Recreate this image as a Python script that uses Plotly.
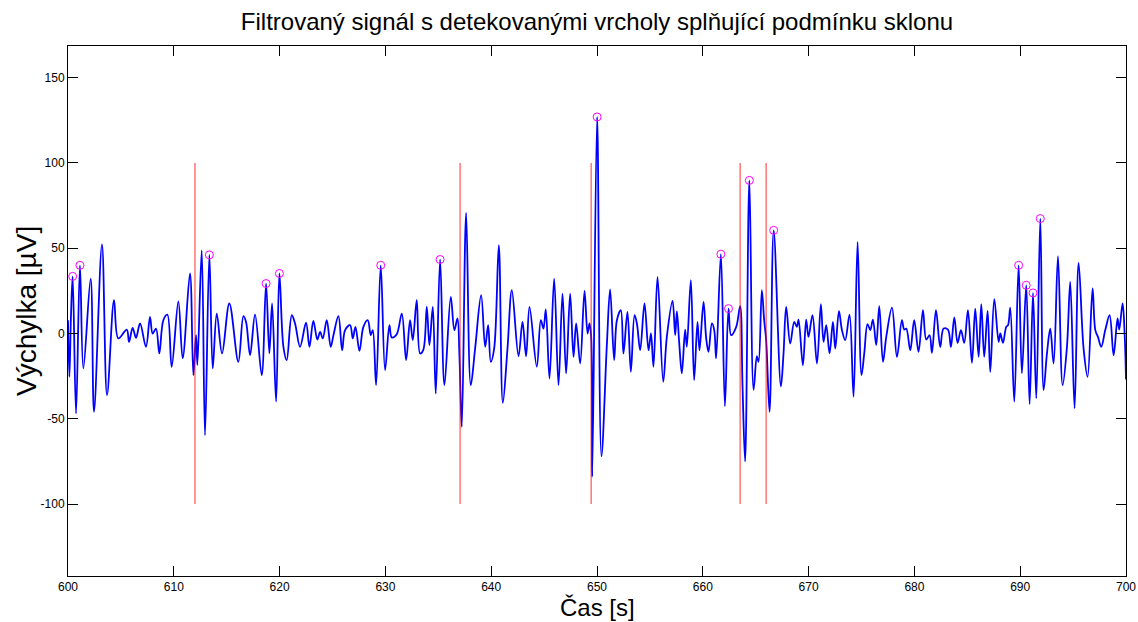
import plotly.graph_objects as go

# --- signal (time in s, deflection in uV) ---
t = [600.00, 600.13, 600.28, 600.44, 600.76, 601.13, 601.45, 602.14, 602.46, 603.21,
     603.69, 604.35, 604.76, 605.55, 605.77, 606.11, 606.43, 606.81, 607.37, 607.75,
     608.00, 608.32, 608.63, 609.01, 609.39, 609.80, 610.43, 610.84,
     611.53, 611.85, 612.10, 612.23, 612.64, 612.95, 613.36, 613.68, 614.06, 614.56,
     615.25, 616.10, 616.58, 616.83, 617.21, 617.68, 618.31, 618.72, 619.03, 619.29,
     619.67, 619.98, 620.36, 620.67, 621.15, 621.46, 621.93,
     622.50, 622.82, 623.19, 623.57, 623.83, 624.08, 624.46, 624.83, 625.09, 625.56,
     625.91, 626.19, 626.66, 626.92, 627.17, 627.55, 627.92, 628.33, 628.62, 628.81,
     629.12, 629.56, 629.97, 630.38, 630.60, 631.07, 631.55, 631.96, 632.33, 632.59,
     632.96, 633.28,
     633.59, 633.91, 634.16, 634.48, 634.76, 635.17, 635.58, 636.18, 636.52, 636.81,
     637.00, 637.22, 637.63, 638.07, 638.48, 639.05, 639.43, 639.71, 639.96, 640.28,
     640.72, 641.10, 641.54, 641.95, 642.58, 642.96, 643.30, 643.62, 644.31, 644.69,
     644.94, 645.16, 645.51, 645.95, 646.36, 646.74, 647.08, 647.46, 647.78, 648.03,
     648.41, 648.82, 649.11, 649.29, 649.45, 649.55, 650.01, 650.42, 650.93, 651.24,
     651.62, 651.88, 652.25, 652.50, 652.88, 653.20, 653.55, 653.77, 654.08, 654.49,
     654.87, 655.10, 655.34, 655.72, 656.26,
     656.60, 657.14, 657.39, 657.55, 657.77, 658.02, 658.33, 658.49, 658.87, 659.18,
     659.50, 659.69, 660.07, 660.32, 660.54, 660.86, 661.08, 661.26, 661.71, 662.09,
     662.43, 662.68, 663.16, 663.53, 663.75, 664.00, 664.40, 664.80, 665.11, 665.27,
     665.58, 665.80, 665.99, 666.31, 666.70, 667.38,
     667.63, 667.88, 668.26, 668.64, 668.89, 669.05, 669.46, 669.77, 669.99, 670.37,
     670.79, 671.16, 671.41, 671.67, 671.98, 672.30, 672.52, 672.87, 673.15, 673.46,
     673.87, 674.25, 674.63, 675.00, 675.26, 675.57, 675.83, 676.08, 676.39, 676.68,
     677.03, 677.34, 677.88, 678.35, 678.82,
     679.04, 679.23, 679.61, 679.98, 680.39, 680.81, 681.12, 681.43, 681.66, 682.04,
     682.44, 682.76, 683.17, 683.45, 683.77, 684.08, 684.40, 684.71, 685.06, 685.44,
     685.75, 686.07, 686.32, 686.60, 686.92, 687.17, 687.55, 687.96, 688.12, 688.37,
     688.68, 688.85, 689.06, 689.44, 689.85, 690.16, 690.57, 690.89, 691.21, 691.52,
     691.90, 692.21, 692.53, 692.84, 693.16, 693.57, 694.01, 694.42, 694.73, 695.14,
     695.52, 695.99, 696.37, 696.84, 697.10, 697.35, 697.66, 698.04, 698.45, 698.83,
     699.20, 699.36, 699.68, 699.87, 700.00]
v = [7.8, -25.4, 9.8, 33.5, -46.9, 40.0, -20.5, 32.2, -45.9, 52.3,
     -36.1, 19.5, -2.9, 2.3, -4.9, 3.3, -2.5, 5.9, -7.8, 9.8,
     0.0, 2.9, -11.7, 7.8, 11.1, -19.5, 18.9, -14.6,
     35.2, -24.4, -1.0, -18.5, 48.8, -59.6, 46.1, -20.5, 11.7, -11.7,
     17.6, -16.6, 10.2, 6.8, -12.7, 11.1, -24.4, 29.3, -11.7, 17.6,
     -40.0, 35.2, -7.8, -15.6, 10.7, 5.9, -7.8,
     6.3, -7.8, 7.4, -3.5, 1.0, -2.9, 7.8, -7.8, -1.0, 10.2,
     -9.8, 2.0, 4.9, -2.9, 3.9, -10.2, 3.9, 7.8, -1.0, 2.0,
     -30.3, 40.0, -21.5, 4.9, -2.3, -0.4, 11.7, -15.6, 7.8, -3.9,
     19.5, -11.7,
     -9.4, 15.6, -6.8, 15.6, -35.2, 43.4, -30.3, 21.5, 2.0, 8.8,
     -13.7, -54.7, 70.7, -30.3, -8.8, 22.5, -7.8, 4.9, -16.6, -8.8,
     51.8, -40.6, -8.8, 25.4, -13.3, 6.8, -13.3, 15.6, -19.5, 7.8,
     2.9, 14.1, -26.4, 32.2, -30.3, 23.4, -23.4, 23.4, -13.7, 5.9,
     -17.6, 25.0, 0.0, 5.9, -2.0, -84.0, 127.0, -72.0, -6.8, 25.8,
     -15.6, 7.8, 13.7, -11.7, 12.7, -22.5, 10.7, 5.9, -9.8, 17.6,
     -9.8, 0.0, -19.5, 33.2, -28.3,
     -2.0, 19.1, -1.0, 13.0, -5.5, -23.4, 2.3, -7.8, 31.3, -27.3,
     6.8, -9.8, 18.6, -2.9, -10.7, 5.9, 2.0, -14.6, 46.5, -42.6,
     14.6, -1.0, 3.9, 16.0, -30.0, -75.0, 89.8, -33.0, -13.3, -16.6,
     25.4, 7.8, -3.9, -45.9, 60.5, -31.0,
     -11.7, 15.6, -5.9, 6.8, 3.9, 8.2, -18.6, 8.2, -2.0, 10.7,
     -17.6, 17.2, -4.9, 4.9, -11.7, 6.8, -8.8, 13.1, 2.0, -3.9,
     11.1, -37.1, 53.7, -24.4, -11.7, 5.5, 2.0, 8.2, -6.8, 16.0,
     -16.6, -2.0, 15.2, -13.7, 7.8,
     2.3, 2.9, -9.8, 7.8, -10.7, 13.7, -3.5, -1.0, -11.3, 13.7,
     -7.8, 2.9, 2.3, -7.8, 9.4, -5.5, 2.0, -5.5, 13.7, -17.2,
     14.6, -13.7, 17.2, -13.7, 13.3, -22.5, 20.1, -4.9, 0.0, -5.5,
     3.9, 4.9, 15.2, -40.0, 40.0, -23.4, 28.3, -41.4, 23.8, -38.0,
     67.4, -33.2, -11.7, 2.9, -17.6, 45.3, -30.3, -7.8, 30.3, -43.9,
     41.4, -8.8, -25.4, 26.4, 2.0, -2.0, -7.8, 2.0, 10.7, -12.7,
     8.8, 2.3, 17.6, 0.0, -27.0]

# --- detected peaks meeting the slope condition ---
peak_t = [600.44, 601.13, 613.36, 618.72, 619.98, 629.56, 635.17, 650.01,
          661.71, 662.43, 664.40, 666.70, 689.85, 690.57, 691.21, 691.90]
peak_v = [33.5, 40.0, 46.1, 29.3, 35.2, 40.0, 43.4, 127.0,
          46.5, 14.6, 89.8, 60.5, 40.0, 28.3, 23.8, 67.4]

# --- vertical markers ---
mark_t = [612.0, 637.06, 649.45, 663.53, 665.99]
mark_lo = -100
mark_hi = 100

x_ticks = [600, 610, 620, 630, 640, 650, 660, 670, 680, 690, 700]
y_ticks = [-100, -50, 0, 50, 100, 150]

title = "Filtrovaný signál s detekovanými vrcholy splňující podmínku sklonu"
xlabel = "Čas [s]"
ylabel = "Výchylka [µV]"

FONT = "Liberation Sans, Arial, Helvetica, sans-serif"

fig = go.Figure()
fig.add_trace(go.Scatter(x=t, y=v, mode="lines",
                         line=dict(color="#0000ff", width=1.8, shape="spline", smoothing=1.0),
                         hoverinfo="skip", showlegend=False))

mx, my = [], []
for m in mark_t:
    mx += [m, m, None]
    my += [mark_lo, mark_hi, None]
fig.add_trace(go.Scatter(x=mx, y=my, mode="lines",
                         line=dict(color="rgba(255,0,0,0.55)", width=1.5),
                         hoverinfo="skip", showlegend=False))

fig.add_trace(go.Scatter(x=peak_t, y=peak_v, mode="markers",
                         marker=dict(symbol="circle-open", size=8, color="#ff00ff",
                                     line=dict(width=1, color="#ff00ff")),
                         hoverinfo="skip", showlegend=False))

axis_common = dict(showline=True, linecolor="black", linewidth=1, mirror="ticks",
                   ticks="inside", ticklen=10, tickcolor="black", tickwidth=1,
                   showgrid=False, zeroline=False, automargin=False,
                   tickfont=dict(family=FONT, size=12, color="black"))

fig.update_layout(
    template="none",
    width=1138, height=622,
    margin=dict(l=68, r=12, t=46, b=46, autoexpand=False),
    paper_bgcolor="white", plot_bgcolor="white",
    title=dict(text=title, x=597 / 1138, xref="container", y=1 - 22 / 622, yref="container",
               xanchor="center", yanchor="middle",
               font=dict(family=FONT, size=24, color="black")),
    xaxis=dict(range=[600, 700], tickvals=x_ticks, ticktext=[str(k) for k in x_ticks],
               **axis_common),
    yaxis=dict(range=[-142.2, 168.6], tickvals=y_ticks, ticktext=[str(k) for k in y_ticks],
               **axis_common),
    annotations=[
        dict(text=xlabel, xref="paper", yref="paper", x=0.5, y=-31 / 530,
             xanchor="center", yanchor="middle", showarrow=False,
             font=dict(family=FONT, size=24, color="black")),
        dict(text=ylabel, xref="paper", yref="paper", x=(26 - 68) / 1058, y=0.5,
             xanchor="center", yanchor="middle", textangle=-90, showarrow=False,
             font=dict(family=FONT, size=28, color="black")),
    ],
)

fig.write_html(
    "out.html",
    config={"displayModeBar": False},
    post_script="document.body.style.margin='0';document.body.style.overflow='hidden';",
)
